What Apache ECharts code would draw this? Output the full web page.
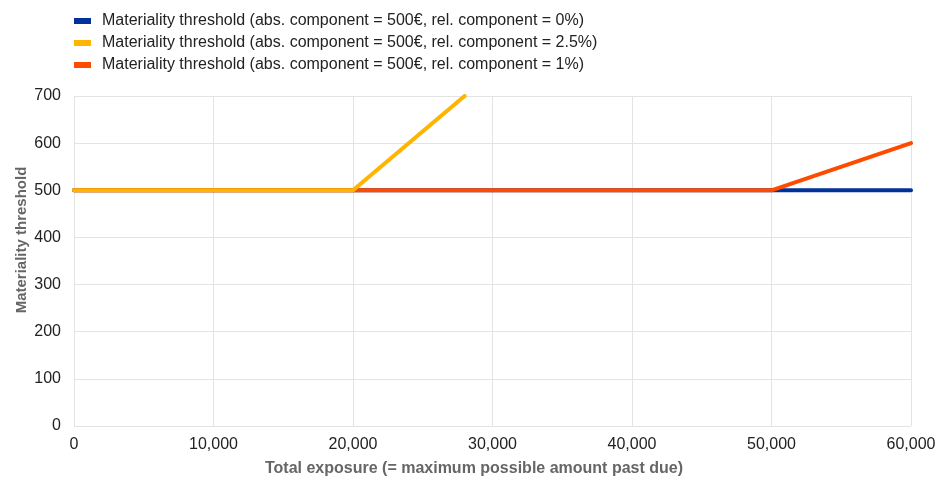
<!DOCTYPE html>
<html><head><meta charset="utf-8">
<script src="https://cdn.jsdelivr.net/npm/echarts@6/dist/echarts.min.js"></script>
<style>html,body{margin:0;padding:0;background:#fff}#c{width:946px;height:482px}</style>
</head><body><div id="c"></div>
<script>
const seriesNames = [
  'Materiality threshold (abs. component = 500€, rel. component = 0%)',
  'Materiality threshold (abs. component = 500€, rel. component = 2.5%)',
  'Materiality threshold (abs. component = 500€, rel. component = 1%)'
];
const blueData = [[0, 500], [60000, 500]];
const yellowData = [[0, 500], [20000, 500], [28000, 700]];
const redData = [[0, 500], [50000, 500], [60000, 600]];
const xTicks = [0, 10000, 20000, 30000, 40000, 50000, 60000];
const yTicks = [0, 100, 200, 300, 400, 500, 600, 700];

const font = 'Liberation Sans, Arial, sans-serif';
const chart = echarts.init(document.getElementById('c'), null, {renderer: 'canvas'});
function mk(name, data, color, z) {
  return {name, type: 'line', data, symbol: 'none', z, clip: true,
    lineStyle: {color, width: 4, cap: 'round'}, itemStyle: {color}};
}
chart.setOption({
  animation: false,
  textStyle: {fontFamily: font},
  legend: {
    orient: 'vertical', left: 69, top: 8, itemWidth: 17, itemHeight: 6, itemGap: 6,
    icon: 'rect',
    data: seriesNames,
    textStyle: {fontFamily: font, fontSize: 16, color: '#222', padding: [0, 0, 0, 6]}
  },
  grid: {left: 74, right: 35, top: 96, bottom: 56, containLabel: false},
  xAxis: {
    type: 'value', min: xTicks[0], max: xTicks[xTicks.length - 1], interval: 10000,
    name: 'Total exposure (= maximum possible amount past due)', nameLocation: 'middle', nameGap: 35,
    nameMoveOverlap: false,
    nameTextStyle: {fontFamily: font, fontSize: 16, fontWeight: 'bold', color: '#666', padding: [0, 37, 0, 0]},
    axisLine: {show: false}, axisTick: {show: false},
    axisLabel: {fontFamily: font, fontSize: 16, color: '#222', margin: 11,
      formatter: v => v.toLocaleString('en-US')},
    splitLine: {show: true, lineStyle: {color: '#e3e3e3', width: 1}}
  },
  yAxis: {
    type: 'value', min: yTicks[0], max: yTicks[yTicks.length - 1], interval: 100,
    name: 'Materiality threshold', nameLocation: 'middle', nameGap: 45,
    nameMoveOverlap: false,
    nameTextStyle: {fontFamily: font, fontSize: 15, fontWeight: 'bold', color: '#666', padding: [0, 0, 0, 42]},
    axisLine: {show: true, lineStyle: {color: '#e3e3e3'}}, axisTick: {show: false},
    axisLabel: {fontFamily: font, fontSize: 16, color: '#222', margin: 13},
    splitLine: {show: true, lineStyle: {color: '#e3e3e3', width: 1}}
  },
  series: [
    mk(seriesNames[0], blueData, '#003299', 2),
    mk(seriesNames[1], yellowData, '#FFB400', 4),
    mk(seriesNames[2], redData, '#FF4B00', 3)
  ]
});
</script></body></html>
